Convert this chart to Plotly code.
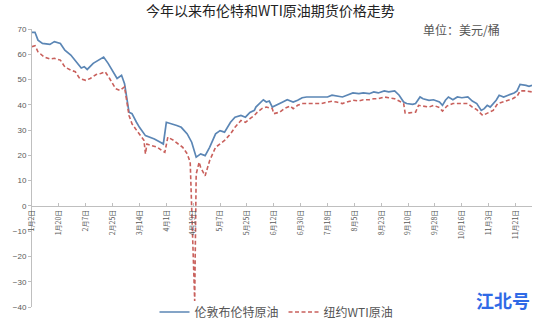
import plotly.graph_objects as go

# ---------------- data ----------------
brent_dates = ["2020-01-02","2020-01-04","2020-01-06","2020-01-09","2020-01-14","2020-01-17","2020-01-21","2020-01-24",
    "2020-01-28","2020-01-30","2020-02-02","2020-02-04","2020-02-06","2020-02-08","2020-02-12","2020-02-17","2020-02-19",
    "2020-02-22","2020-02-25","2020-02-28","2020-03-02","2020-03-04","2020-03-07","2020-03-09","2020-03-12","2020-03-14",
    "2020-03-18","2020-03-21","2020-03-24","2020-03-28","2020-03-30","2020-04-01","2020-04-05","2020-04-08","2020-04-11",
    "2020-04-15","2020-04-18","2020-04-21","2020-04-24","2020-04-27","2020-04-30","2020-05-04","2020-05-07","2020-05-10",
    "2020-05-14","2020-05-17","2020-05-21","2020-05-24","2020-05-27","2020-05-30","2020-05-31","2020-06-03","2020-06-05",
    "2020-06-07","2020-06-09","2020-06-11","2020-06-15","2020-06-18","2020-06-21","2020-06-25","2020-06-28","2020-07-01",
    "2020-07-04","2020-07-08","2020-07-11","2020-07-14","2020-07-18","2020-07-21","2020-07-24","2020-07-28","2020-07-31",
    "2020-08-04","2020-08-08","2020-08-11","2020-08-15","2020-08-18","2020-08-21","2020-08-25","2020-08-28","2020-09-01",
    "2020-09-04","2020-09-07","2020-09-09","2020-09-13","2020-09-15","2020-09-18","2020-09-20","2020-09-24","2020-09-27",
    "2020-10-01","2020-10-03","2020-10-05","2020-10-07","2020-10-10","2020-10-13","2020-10-16","2020-10-20","2020-10-23",
    "2020-10-26","2020-10-29","2020-10-31","2020-11-02","2020-11-04","2020-11-08","2020-11-10","2020-11-13","2020-11-16",
    "2020-11-20","2020-11-22","2020-11-24","2020-11-28","2020-11-30","2020-12-02"]
brent_values = [68.7,68.7,65.6,64.3,63.9,65.0,64.3,61.6,
    59.7,58.3,56.4,54.6,55.1,54.0,56.4,58.3,58.9,
    56.4,53.1,50.4,51.7,48.4,37.1,36.5,33.1,31.1,
    27.8,27.2,26.5,25.2,24.5,33.1,32.5,31.8,31.1,
    28.5,25.2,19.3,20.6,19.9,23.2,28.5,29.8,29.2,
    33.1,35.1,35.8,35.1,37.0,37.8,39.1,41.1,42.0,
    41.1,41.5,39.1,40.4,41.1,42.0,41.1,41.8,42.8,
    43.1,43.1,43.4,43.4,43.1,43.8,43.4,43.1,43.8,
    44.7,44.4,44.7,44.4,45.1,44.7,45.5,45.1,45.5,
    43.8,41.1,40.5,40.2,40.5,43.1,42.4,41.8,42.0,
    41.1,39.8,41.8,43.1,42.0,43.1,42.8,43.1,41.5,
    40.5,37.8,38.5,39.8,39.1,41.8,43.8,43.1,43.8,
    44.7,45.5,48.1,47.7,47.3,47.7]

wti_dates = ["2020-01-02","2020-01-04","2020-01-06","2020-01-10","2020-01-14","2020-01-17","2020-01-21","2020-01-24",
    "2020-01-28","2020-01-31","2020-02-03","2020-02-07","2020-02-10","2020-02-14","2020-02-17","2020-02-20","2020-02-23",
    "2020-02-27","2020-03-01","2020-03-04","2020-03-07","2020-03-09","2020-03-12","2020-03-16","2020-03-17","2020-03-18",
    "2020-03-19","2020-03-22","2020-03-26","2020-03-29","2020-03-31","2020-04-02","2020-04-06","2020-04-09","2020-04-12",
    "2020-04-15","2020-04-17","2020-04-20","2020-04-21","2020-04-23","2020-04-24","2020-04-27","2020-04-30","2020-05-04",
    "2020-05-07","2020-05-10","2020-05-14","2020-05-17","2020-05-21","2020-05-24","2020-05-27","2020-05-30","2020-06-01",
    "2020-06-04","2020-06-07","2020-06-11","2020-06-12","2020-06-16","2020-06-19","2020-06-23","2020-06-25","2020-06-28",
    "2020-07-01","2020-07-04","2020-07-08","2020-07-11","2020-07-14","2020-07-18","2020-07-21","2020-07-24","2020-07-28",
    "2020-07-31","2020-08-04","2020-08-08","2020-08-11","2020-08-15","2020-08-18","2020-08-21","2020-08-25","2020-08-28",
    "2020-09-01","2020-09-04","2020-09-07","2020-09-08","2020-09-11","2020-09-15","2020-09-17","2020-09-20","2020-09-24",
    "2020-09-27","2020-10-01","2020-10-03","2020-10-06","2020-10-10","2020-10-13","2020-10-16","2020-10-20","2020-10-23",
    "2020-10-26","2020-10-30","2020-11-02","2020-11-06","2020-11-09","2020-11-12","2020-11-16","2020-11-19","2020-11-22",
    "2020-11-24","2020-11-28","2020-12-02"]
wti_values = [63.0,63.4,61.0,59.0,58.1,58.4,57.7,55.0,
    53.7,53.1,50.4,49.7,50.4,52.0,52.4,53.1,50.4,
    46.4,45.7,47.1,35.8,32.5,30.0,26.5,26.0,20.6,
    24.5,23.9,23.2,21.9,21.2,27.2,25.9,24.5,23.2,
    20.6,17.3,-37.6,12.6,17.3,15.2,11.9,17.9,23.2,
    24.5,25.9,28.5,31.1,33.8,33.1,34.5,35.8,37.1,
    38.5,39.1,38.5,36.5,37.1,38.5,39.5,38.5,39.8,
    40.5,40.5,40.7,40.7,40.5,41.1,41.4,41.1,40.5,
    41.1,41.8,41.5,42.0,42.0,42.4,42.4,43.1,42.8,
    42.4,41.5,40.5,36.8,36.8,37.1,39.8,39.5,39.1,
    39.8,38.9,37.5,39.5,40.5,40.5,40.7,40.5,39.1,
    38.1,35.8,36.8,37.8,40.5,41.1,42.0,42.4,43.4,
    45.5,45.5,45.1]

tick_dates = ["2020-01-02","2020-01-20","2020-02-07","2020-02-25","2020-03-14","2020-04-01","2020-04-19",
    "2020-05-07","2020-05-25","2020-06-12","2020-06-30","2020-07-18","2020-08-05","2020-08-23","2020-09-10",
    "2020-09-28","2020-10-16","2020-11-03","2020-11-21"]
tick_labels = ["1月2日","1月20日","2月7日","2月25日","3月14日","4月1日","4月19日","5月7日","5月25日","6月12日",
    "6月30日","7月18日","8月5日","8月23日","9月10日","9月28日","10月16日","11月3日","11月21日"]

series_names = ["伦敦布伦特原油", "纽约WTI原油"]
title_text = "今年以来布伦特和WTI原油期货价格走势"
unit_text = "单位：美元/桶"
watermark = "江北号"

y_min, y_max = -40, 70

# ---------------- figure ----------------
CJK = "Noto Sans CJK SC"
fig = go.Figure()
fig.add_trace(go.Scatter(x=brent_dates, y=brent_values, mode="lines", name=series_names[0],
                         line=dict(color="#5b86b5", width=1.7)))
fig.add_trace(go.Scatter(x=wti_dates, y=wti_values, mode="lines", name=series_names[1],
                         line=dict(color="#c9605c", width=1.6, dash="4px,2.5px")))

zero_pos = (0 - y_min) / (y_max - y_min)

fig.update_layout(
    width=540, height=320,
    margin=dict(l=32, r=8, t=29, b=13, autoexpand=False),
    paper_bgcolor="white", plot_bgcolor="white",
    font=dict(family=CJK, color="#595959"),
    showlegend=True,
    legend=dict(orientation="h", x=0.245, xanchor="left", y=-0.018, yanchor="middle",
                font=dict(size=12, color="#555555", family=CJK), bgcolor="rgba(0,0,0,0)",
                itemwidth=30, tracegroupgap=0),
    xaxis=dict(type="date", range=["2020-01-02", "2020-12-02"],
               tickvals=tick_dates, ticktext=tick_labels, tickangle=-90,
               tickfont=dict(size=7, color="#595959", family=CJK),
               showgrid=False, zeroline=False, showline=True, linecolor="#bfbfbf", linewidth=1,
               ticks="inside", ticklen=3, tickcolor="#bfbfbf",
               anchor="free", position=zero_pos),
    yaxis=dict(range=[y_min, y_max], dtick=10, showgrid=False, zeroline=False,
               showline=True, linecolor="#bfbfbf", linewidth=1,
               ticks="outside", ticklen=3, tickcolor="#bfbfbf",
               tickfont=dict(size=8, color="#595959", family="Liberation Sans")),
    annotations=[
        dict(text=title_text, xref="paper", yref="paper", x=0.476, y=1.07, xanchor="center", yanchor="middle",
             showarrow=False, font=dict(size=14, color="#222222", family=CJK)),
        dict(text=unit_text, xref="paper", yref="paper", x=0.94, y=1.0, xanchor="right", yanchor="middle",
             showarrow=False, font=dict(size=12, color="#555555", family=CJK)),
        dict(text="<b>" + watermark + "</b>", xref="paper", yref="paper", x=1.0, y=0.025, xanchor="right", yanchor="middle",
             showarrow=False, font=dict(size=18, color="#2f6ae6", family=CJK)),
    ],
)

fig.write_html("out.html")
